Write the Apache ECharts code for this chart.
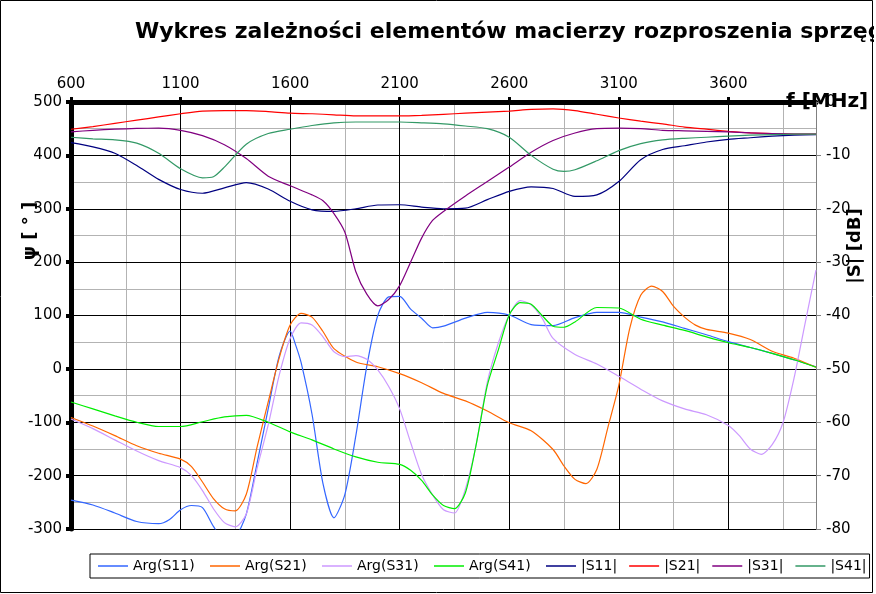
<!DOCTYPE html>
<html><head><meta charset="utf-8">
<script src="https://cdn.jsdelivr.net/npm/echarts@6/dist/echarts.min.js"></script>
<style>html,body{margin:0;padding:0;background:#fff}#c{width:874px;height:594px}</style>
</head><body><div id="c"></div><script>
// ---- data ----
const seriesNames = ['Arg(S11)','Arg(S21)','Arg(S31)','Arg(S41)','|S11|','|S21|','|S31|','|S41|'];
const xTicks = [600,1100,1600,2100,2600,3100,3600];

const f100 = [600,700,800,900,1000,1100,1200,1300,1400,1500,1600,1700,1800,1900,2000,2100,2200,2300,2400,2500,2600,2700,2800,2900,3000,3100,3200,3300,3400,3500,3600,3700,3800,3900,4000];

const fA11 = [600,700,800,900,1000,1050,1100,1150,1200,1250,1300,1350,1400,1450,1500,1550,1600,1625,1650,1700,1750,1800,1850,1900,1950,2000,2050,2100,2150,2200,2250,2300,2400,2500,2600,2700,2800,2900,3000,3100,3200,3300,3400,3500,3600,3700,3800,3900,4000];
const argS11 = [-246,-255,-270,-286,-290,-282,-264,-256,-260,-295,-320,-315,-272,-175,-75,24,71,45,12,-85,-215,-279,-235,-125,5,100,135,136,112,95,77,80,95,106,101,83,81,96,106,106,97,88,76,64,51,40,29,17,4];

const fA21 = [600,700,800,900,1000,1100,1150,1200,1250,1300,1350,1400,1450,1500,1550,1600,1650,1700,1750,1800,1900,2000,2100,2200,2300,2400,2500,2600,2700,2800,2850,2900,2950,3000,3050,3100,3150,3200,3250,3300,3350,3400,3450,3500,3600,3700,3800,3900,4000];
const argS21 = [-91,-107,-125,-144,-158,-169,-183,-212,-243,-262,-266,-235,-145,-62,20,82,104,97,70,38,13,4,-9,-26,-46,-60,-79,-101,-116,-151,-182,-207,-215,-188,-110,-31,76,138,155,145,117,97,82,74,67,55,33,20,3];

const fA31 = [600,700,800,900,1000,1100,1150,1200,1250,1300,1350,1400,1450,1500,1550,1600,1650,1700,1750,1800,1850,1900,1950,2000,2050,2100,2150,2200,2250,2300,2350,2400,2450,2500,2550,2600,2650,2700,2750,2800,2900,3000,3100,3200,3300,3400,3500,3600,3650,3700,3750,3800,3850,3900,3950,4000];
const argS31 = [-94,-112,-133,-154,-172,-185,-200,-228,-262,-288,-296,-272,-185,-105,-12,57,86,82,60,32,23,25,18,-2,-33,-75,-138,-198,-236,-264,-270,-225,-140,-25,48,101,128,120,95,57,27,9,-14,-38,-60,-75,-86,-106,-125,-150,-160,-142,-100,-17,85,185];

const fA41 = [600,700,800,900,1000,1100,1200,1300,1400,1500,1600,1700,1800,1900,2000,2100,2150,2200,2250,2300,2350,2400,2450,2500,2550,2600,2650,2700,2750,2800,2850,2900,3000,3100,3200,3300,3400,3500,3600,3700,3800,3900,4000];
const argS41 = [-62,-75,-88,-100,-108,-108,-99,-90,-87,-100,-118,-133,-150,-165,-175,-179,-190,-209,-236,-256,-262,-232,-140,-31,35,101,124,121,100,80,78,88,115,114,93,82,72,60,49,40,29,17,3];

const magS11 = [-7.6,-8.4,-9.6,-11.9,-14.5,-16.4,-17.1,-16.1,-15.1,-16.3,-18.6,-20.2,-20.5,-20.0,-19.3,-19.25,-19.7,-20.0,-19.9,-18.3,-16.75,-15.9,-16.2,-17.7,-17.4,-14.9,-10.8,-8.9,-8.2,-7.5,-7.0,-6.7,-6.4,-6.2,-6.1];
const magS21 = [-5.1,-4.6,-4.0,-3.4,-2.8,-2.2,-1.7,-1.6,-1.6,-1.8,-2.1,-2.2,-2.4,-2.6,-2.6,-2.6,-2.5,-2.3,-2.1,-1.9,-1.7,-1.4,-1.3,-1.6,-2.3,-3.0,-3.6,-4.1,-4.7,-5.1,-5.5,-5.8,-5.9,-6.0,-6.0];

const fM31 = [600,700,800,900,1000,1100,1200,1300,1400,1500,1600,1700,1750,1800,1850,1900,1950,2000,2050,2100,2150,2200,2250,2300,2400,2500,2600,2700,2800,2900,3000,3100,3200,3300,3400,3500,3600,3700,3800,3900,4000];
const magS31 = [-5.6,-5.3,-5.1,-4.95,-4.9,-5.3,-6.3,-8.0,-10.6,-13.9,-15.7,-17.4,-18.5,-20.9,-24.4,-31.8,-36.0,-38.2,-37.0,-34.4,-30.0,-25.5,-22.2,-20.5,-17.6,-14.9,-12.2,-9.4,-7.2,-5.8,-5.0,-4.9,-5.0,-5.3,-5.4,-5.5,-5.6,-5.8,-5.9,-6.0,-6.0];

const fM41 = [600,700,800,900,1000,1100,1200,1250,1300,1400,1500,1600,1700,1800,1900,2000,2100,2200,2300,2400,2500,2600,2700,2800,2850,2900,3000,3100,3200,3300,3400,3500,3600,3700,3800,3900,4000];
const magS41 = [-6.6,-6.9,-7.1,-7.7,-9.6,-12.5,-14.2,-14.0,-12.2,-7.9,-5.9,-5.1,-4.4,-3.9,-3.75,-3.75,-3.75,-3.9,-4.1,-4.5,-5.0,-6.6,-10.0,-12.6,-13.0,-12.7,-11.0,-9.1,-7.8,-7.1,-6.8,-6.6,-6.4,-6.2,-6.1,-6.0,-6.0];

const colors = ['#3366ff','#ff6600','#cc99ff','#00ee00','#000080','#ff0000','#800080','#339966'];

// ---- chart ----
const FONT = 'DejaVu Sans';
const zip = (xs, ys) => xs.map((x, i) => [x, ys[i]]);
const seriesData = [
  zip(fA11, argS11), zip(fA21, argS21), zip(fA31, argS31), zip(fA41, argS41),
  zip(f100, magS11), zip(f100, magS21), zip(fM31, magS31), zip(fM41, magS41)
];
const plain = v => String(v);

const chart = echarts.init(document.getElementById('c'), null, {renderer: 'canvas'});
const option = {
  animation: false,
  backgroundColor: '#fff',
  color: colors,
  title: {
    text: 'Wykres zależności elementów macierzy rozproszenia sprzęgacza',
    left: 135, top: 21, padding: 0,
    textStyle: {fontFamily: FONT, fontSize: 22, fontWeight: 'bold', color: '#000'}
  },
  grid: {left: 71, top: 102, right: 58, bottom: 65, containLabel: false},
  xAxis: [
    {
      type: 'value', position: 'top', min: 600, max: 4000, interval: 500, z: 1,
      axisLine: {show: true, onZero: false, lineStyle: {color: '#000', width: 5}},
      axisTick: {show: true, length: 5, inside: false, lineStyle: {color: '#000', width: 3}},
      axisLabel: {show: true, margin: 10, fontFamily: FONT, fontSize: 15, color: '#000', showMaxLabel: false, formatter: plain},
      splitLine: {show: true, lineStyle: {color: '#000', width: 1}}
    },
    {
      type: 'value', position: 'top', min: 600, max: 4000, interval: 250, z: 0,
      axisLine: {show: false, onZero: false}, axisTick: {show: false}, axisLabel: {show: false},
      splitLine: {show: true, lineStyle: {color: '#b3b3b3', width: 1}}
    }
  ],
  yAxis: [
    {
      type: 'value', position: 'left', min: -300, max: 500, interval: 100, z: 1,
      axisLine: {show: true, onZero: false, lineStyle: {color: '#000', width: 5}},
      axisTick: {show: true, length: 5, lineStyle: {color: '#000', width: 4}},
      axisLabel: {show: true, margin: 9, fontFamily: FONT, fontSize: 15, color: '#000', formatter: plain},
      splitLine: {show: true, lineStyle: {color: '#000', width: 1}},
      minorTick: {show: false, splitNumber: 2},
      minorSplitLine: {show: true, lineStyle: {color: '#b3b3b3', width: 1}}
    },
    {
      type: 'value', position: 'right', min: -80, max: 0, interval: 10, z: 2,
      axisLine: {show: true, onZero: false, lineStyle: {color: '#808080', width: 1}},
      axisTick: {show: true, length: 5, lineStyle: {color: '#808080', width: 1}},
      axisLabel: {show: true, margin: 10, fontFamily: FONT, fontSize: 15, color: '#000', formatter: plain},
      splitLine: {show: false}
    }
  ],
  legend: {
    left: 90, top: 554, orient: 'horizontal', width: 784,
    icon: 'path://M0,0 L30,0 L30,1.5 L0,1.5 Z',
    itemWidth: 30, itemHeight: 1.5, itemGap: 12,
    padding: [5, 3, 5, 8],
    borderColor: '#000', borderWidth: 1, backgroundColor: '#fff',
    textStyle: {fontFamily: FONT, fontSize: 14, color: '#000', lineHeight: 14},
    data: seriesNames.map(n => ({name: n, textStyle: {width: n.indexOf('Arg') === 0 ? 65 : 36}}))
  },
  graphic: [
    {type: 'rect', z: 100, silent: true, shape: {x: 0.5, y: 0.5, width: 872, height: 592},
     style: {fill: 'none', stroke: '#000', lineWidth: 1}},
    {type: 'text', z: 100, x: 786, y: 102,
     style: {text: 'f [MHz]', font: 'bold 20px "DejaVu Sans"', fill: '#000', verticalAlign: 'middle', align: 'left'}},
    {type: 'text', z: 100, x: 30, y: 231, rotation: Math.PI / 2,
     style: {text: 'ψ [ ° ]', font: 'bold 18px "DejaVu Sans"', fill: '#000', verticalAlign: 'middle', align: 'center'}},
    {type: 'text', z: 100, x: 855, y: 246, rotation: Math.PI / 2,
     style: {text: '|S| [dB]', font: 'bold 18px "DejaVu Sans"', fill: '#000', verticalAlign: 'middle', align: 'center'}}
  ],
  series: seriesNames.map((n, i) => ({
    name: n, type: 'line', xAxisIndex: 0, yAxisIndex: i < 4 ? 0 : 1,
    data: seriesData[i], symbol: 'none', showSymbol: false, smooth: 0.25, z: 3,
    lineStyle: {width: 1.2, color: colors[i]}, itemStyle: {color: colors[i]},
    clip: true
  }))
};
chart.setOption(option);
</script></body></html>
